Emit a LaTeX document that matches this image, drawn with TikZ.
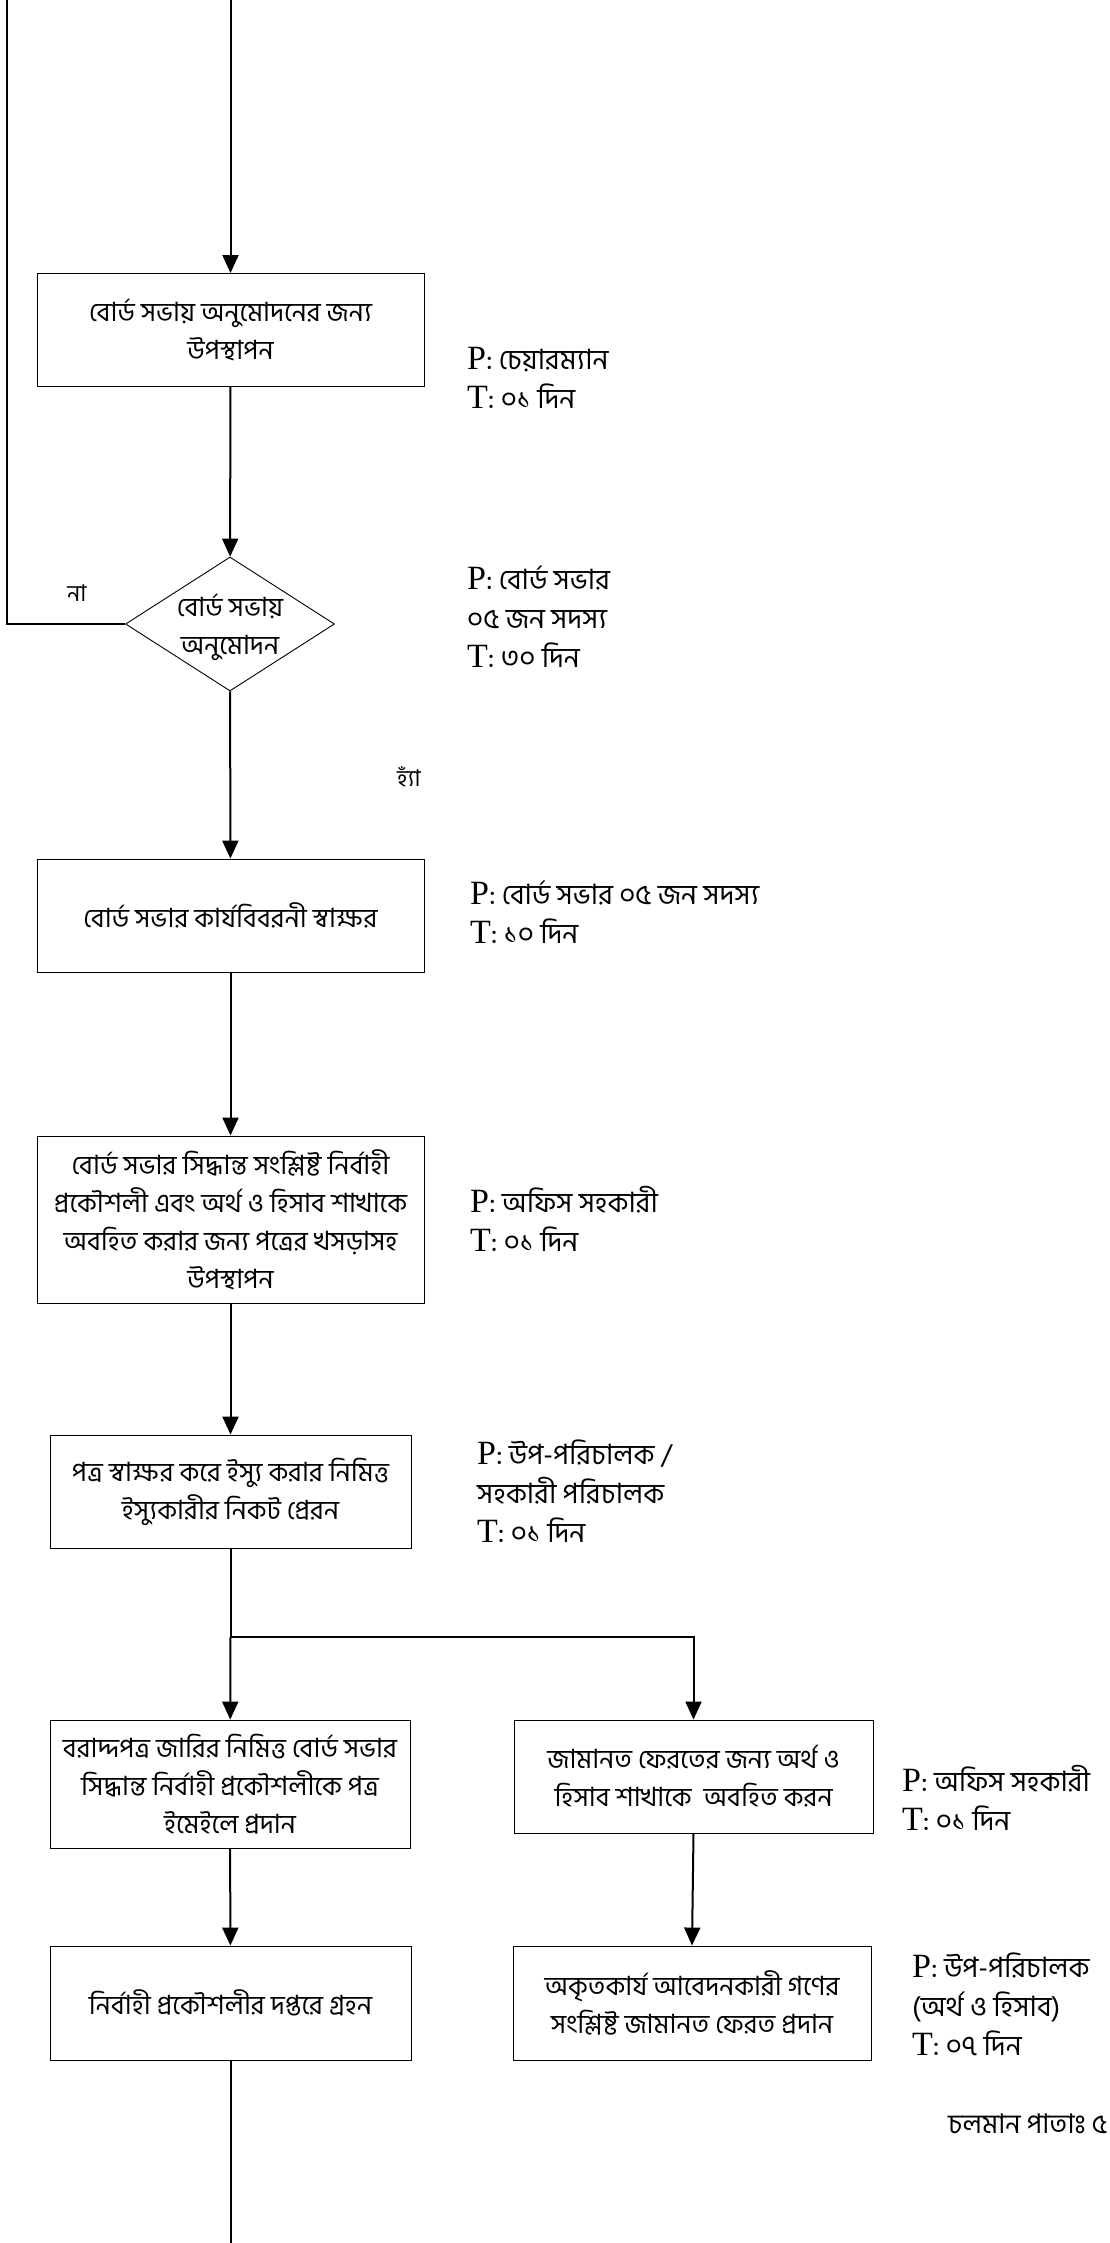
\documentclass[tikz,border=0pt]{standalone}
\usepackage{fontspec}
\usetikzlibrary{shapes.geometric,arrows.meta}
\newfontfamily\bn[Script=Bengali]{Hind Siliguri}
\newfontfamily\tmr{Liberation Serif}
\newcommand{\bnf}{\bn\fontsize{26.5}{38}\selectfont}
\newcommand{\lbf}{\bn\fontsize{28}{39}\selectfont}
\newcommand{\PP}{{\tmr\fontsize{34}{39}\selectfont P}}
\newcommand{\TT}{{\tmr\fontsize{34}{39}\selectfont T}}
\tikzset{
  box/.style={draw, line width=0.9pt, inner sep=0pt, align=center, font=\bnf},
  dia/.style={draw, diamond, line width=0.9pt, inner sep=0pt, minimum width=209pt, minimum height=134pt},
  arr/.style={line width=2pt, -{Triangle[length=18pt,width=16pt]}},
  ln/.style={line width=2pt},
  lbl/.style={anchor=west, align=left, font=\lbf, inner sep=0pt},
  yn/.style={font=\bn\fontsize{23}{26}\selectfont, inner sep=0pt}
}
\begin{document}
\begin{tikzpicture}[x=1pt,y=-1pt]
\useasboundingbox (0,0) rectangle (1109,2243);
% boxes
\node[box, minimum width=387pt, minimum height=113pt] (b1) at (230.5,330) {বোর্ড সভায় অনুমোদনের জন্য\\উপস্থাপন};
\node[dia] (d1) at (230,624) {};
\node[align=center, font=\bnf, inner sep=0pt] (d1t) at (230,627) {বোর্ড সভায়\\অনুমোদন};
\node[box, minimum width=387pt, minimum height=113pt] (b2) at (230.5,915.5) {বোর্ড সভার কার্যবিবরনী স্বাক্ষর};
\node[box, minimum width=387pt, minimum height=167pt] (b3) at (230.5,1219.5) {বোর্ড সভার সিদ্ধান্ত সংশ্লিষ্ট নির্বাহী\\প্রকৌশলী এবং অর্থ ও হিসাব শাখাকে\\অবহিত করার জন্য পত্রের খসড়াসহ\\উপস্থাপন};
\node[box, minimum width=361pt, minimum height=113pt] (b4) at (230.5,1491.5) {পত্র স্বাক্ষর করে ইস্যু করার নিমিত্ত\\ইস্যুকারীর নিকট প্রেরন};
\node[box, minimum width=360pt, minimum height=128pt] (b5) at (230,1784) {বরাদ্দপত্র জারির নিমিত্ত বোর্ড সভার\\সিদ্ধান্ত নির্বাহী প্রকৌশলীকে পত্র\\ইমেইলে প্রদান};
\node[box, minimum width=359pt, minimum height=113pt] (b6) at (693.5,1776.5) {জামানত ফেরতের জন্য অর্থ ও\\হিসাব শাখাকে~ অবহিত করন};
\node[box, minimum width=358pt, minimum height=114pt] (b7) at (692,2003) {অকৃতকার্য আবেদনকারী গণের\\সংশ্লিষ্ট জামানত ফেরত প্রদান};
\node[box, minimum width=361pt, minimum height=114pt] (b8) at (230.5,2003) {নির্বাহী প্রকৌশলীর দপ্তরে গ্রহন};
% free ends
\coordinate (top) at (230.5,0);
\coordinate (ltop) at (7,0);
\coordinate (lcorner) at (7,624);
\coordinate (split) at (230.5,1637);
\coordinate (bot) at (230.5,2243);
% connectors
\draw[arr] (top) -- (b1);
\draw[arr] (b1) -- (d1);
\draw[ln] (d1.west) -- (lcorner) -- (ltop);
\draw[arr] (d1) -- (b2);
\draw[arr] (b2) -- (b3);
\draw[arr] (b3) -- (b4);
\draw[ln] (b4.south) -- (split);
\draw[arr] (split) -- (b5);
\draw[arr] (split) -| (b6.north);
\draw[arr] (b6.south) -- (b7.north);
\draw[arr] (b5) -- (b8);
\draw[ln] (b8.south) -- (bot);
% yes / no
\node[yn] (no) at (77,593) {না};
\node[yn] (yes) at (409,777) {হ্যাঁ};
% P / T labels
\node[lbl] (l1) at (467,378) {\PP: চেয়ারম্যান\\\TT: ০১ দিন};
\node[lbl] (l2) at (467,617) {\PP: বোর্ড সভার\\০৫ জন সদস্য\\\TT: ৩০ দিন};
\node[lbl] (l3) at (470,912) {\PP: বোর্ড সভার ০৫ জন সদস্য\\\TT: ১০ দিন};
\node[lbl] (l4) at (470,1219) {\PP: অফিস সহকারী\\\TT: ০১ দিন};
\node[lbl] (l5) at (477,1491) {\PP: উপ-পরিচালক /\\সহকারী পরিচালক\\\TT: ০১ দিন};
\node[lbl] (l6) at (902,1798) {\PP: অফিস সহকারী\\\TT: ০১ দিন};
\node[lbl] (l7) at (912,2004) {\PP: উপ-পরিচালক\\(অর্থ ও হিসাব)\\\TT: ০৭ দিন};
\node[anchor=west, font=\bn\fontsize{27}{30}\selectfont, inner sep=0pt] (pg) at (948,2124) {চলমান পাতাঃ ৫};
\end{tikzpicture}
\end{document}
